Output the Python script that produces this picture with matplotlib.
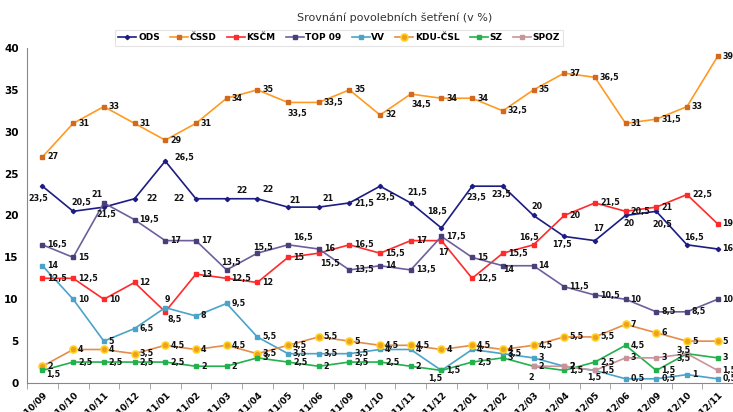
import numpy as np
import matplotlib.pyplot as plt

months = ["2010/09", "2010/10", "2010/11", "2010/12", "2011/01", "2011/02",
          "2011/03", "2011/04", "2011/05", "2011/06", "2011/09", "2011/10",
          "2011/11", "2011/12", "2012/01", "2012/02", "2012/03", "2012/04",
          "2012/05", "2012/06", "2012/09", "2012/10", "2012/11"]

ods = [23.5, 20.5, 21, 22, 26.5, 22, 22, 22, 21, 21, 21.5, 23.5,
       21.5, 18.5, 23.5, 23.5, 20, 17.5, 17, 20, 20.5, 16.5, 16]
cssd = [27, 31, 33, 31, 29, 31, 34, 35, 33.5, 33.5, 35, 32,
        34.5, 34, 34, 32.5, 35, 37, 36.5, 31, 31.5, 33, 39]
kscm = [12.5, 12.5, 10, 12, 8.5, 13, 12.5, 12, 15, 15.5, 16.5, 15.5,
        17, 17, 12.5, 15.5, 16.5, 20, 21.5, 20.5, 21, 22.5, 19]
top09 = [16.5, 15, 21.5, 19.5, 17, 17, 13.5, 15.5, 16.5, 16, 13.5, 14,
         13.5, 17.5, 15, 14, 14, 11.5, 10.5, 10, 8.5, 8.5, 10]
vv = [14, 10, 5, 6.5, 9, 8, 9.5, 5.5, 3.5, 3.5, 3.5, 4,
      4, 1.5, 4, 3.5, 3, 2, 1.5, 0.5, 0.5, 1, 0.5]
kdu = [2, 4, 4, 3.5, 4.5, 4, 4.5, 3.5, 4.5, 5.5, 5, 4.5,
       4.5, 4, 4.5, 4, 4.5, 5.5, 5.5, 7, 6, 5, 5]
sz = [1.5, 2.5, 2.5, 2.5, 2.5, 2, 2, 3, 2.5, 2, 2.5, 2.5,
      2, 1.5, 2.5, 3, 2, 1.5, 2.5, 4.5, 1.5, 3.5, 3]
spoz = [None] * 16 + [2, 2, 1.5, 3, 3, 3.5, 1.5]

series = [
    ("ODS", ods, "#1c1c84", "D", "#1c1c84"),
    ("ČSSD", cssd, "#ff9a22", "s", "#d2691e"),
    ("KSČM", kscm, "#ff2a2a", "s", "#ff2a2a"),
    ("TOP 09", top09, "#6e5f9c", "s", "#4b3f7a"),
    ("VV", vv, "#4ba3c7", "s", "#4ba3c7"),
    ("KDU-ČSL", kdu, "#e58c4c", "o", "#f0a020"),
    ("SZ", sz, "#22b14c", "s", "#22b14c"),
    ("SPOZ", spoz, "#c99499", "s", "#c99499"),
]

# label centre offsets in pixels (dx right, dy up) where the label is not
# simply put to the right of its point
label_moves = {
    ("ČSSD", 8): (9, -11), ("ČSSD", 12): (11, -10),
    ("ODS", 0): (-4, -12), ("ODS", 1): (8, 9), ("ODS", 2): (-7, 13),
    ("ODS", 3): (17, 0), ("ODS", 4): (19, 4), ("ODS", 5): (-17, 0),
    ("ODS", 6): (15, 8), ("ODS", 7): (11, 9), ("ODS", 8): (7, 7),
    ("ODS", 9): (9, 9), ("ODS", 10): (15, -1), ("ODS", 11): (5, -11),
    ("ODS", 12): (6, 10), ("ODS", 13): (-4, 17), ("ODS", 14): (4, -11),
    ("ODS", 15): (-2, -8), ("ODS", 16): (3, 9), ("ODS", 17): (-2, -8),
    ("ODS", 18): (4, 12), ("ODS", 19): (3, -8), ("ODS", 20): (6, -13),
    ("ODS", 21): (7, 7),
    ("KSČM", 4): (9, -8), ("KSČM", 9): (11, -10), ("KSČM", 13): (2, -12),
    ("KSČM", 16): (-5, 7),
    ("TOP 09", 2): (2, -12), ("TOP 09", 6): (4, 7), ("TOP 09", 7): (6, 6),
    ("TOP 09", 8): (15, 7), ("TOP 09", 15): (6, -4),
    ("VV", 4): (2, 8), ("VV", 13): (-6, -8),
    ("SZ", 0): (11, -4), ("SZ", 21): (-3, -5),
    ("SPOZ", 16): (-2, -11), ("SPOZ", 18): (-1, -7), ("SPOZ", 21): (-3, 3),
}


def fmt(v):
    if v == int(v):
        return str(int(v))
    return str(v).replace(".", ",")


fig = plt.figure(figsize=(7.33, 4.12), dpi=100)
ax = fig.add_axes([0.037, 0.0704, 0.963, 0.8131])
x = np.arange(len(months))
px = 0.72  # points per pixel at dpi 100

for name, vals, col, mk, mcol in series:
    y = np.array([np.nan if v is None else v for v in vals], dtype=float)
    if mk == "o":
        ax.plot(x, y, color=col, lw=1.2, marker=mk, ms=5, mfc=mcol,
                mec="#ffd21f", mew=1.2, label=name, zorder=3)
    else:
        ax.plot(x, y, color=col, lw=1.2, marker=mk, ms=2.2, mfc=mcol,
                mec=mcol, label=name, zorder=3)
    for i, v in enumerate(vals):
        if v is None:
            continue
        if (name, i) in label_moves:
            dx, dy = label_moves[(name, i)]
            ax.annotate(fmt(v), (i, v), xytext=(dx * px, dy * px),
                        textcoords="offset points", ha="center", va="center",
                        fontsize=5.8, fontweight="bold", color="#111111",
                        zorder=4)
        else:
            ax.annotate(fmt(v), (i, v), xytext=(5 * px, 0),
                        textcoords="offset points", ha="left", va="center",
                        fontsize=5.8, fontweight="bold", color="#111111",
                        zorder=4)

ax.set_xlim(-0.5, len(months) - 0.5)
ax.set_ylim(0, 40)
ax.set_yticks(range(0, 41, 5))
ax.set_xticks(x)
ax.set_xticklabels(months, rotation=45, ha="right", rotation_mode="anchor",
                   fontsize=6.5, fontweight="bold")
ax.set_xticks(np.arange(-0.5, len(months), 1), minor=True)
ax.tick_params(axis="x", which="major", length=0, pad=5)
ax.tick_params(axis="x", which="minor", length=4, color="#999999")
ax.tick_params(axis="y", length=0, pad=6, labelsize=7.5)
for lab in ax.get_yticklabels():
    lab.set_fontweight("bold")
ax.spines["top"].set_visible(False)
ax.spines["right"].set_visible(False)
ax.spines["left"].set_color("#888888")
ax.spines["bottom"].set_color("#888888")

fig.text(0.538, 0.957, "Srovnání povolebních šetření (v %)", ha="center",
         va="center", fontsize=8, color="#333333")
leg = ax.legend(loc="center", bbox_to_anchor=(0.442, 1.03), ncol=8,
                fontsize=6.5, frameon=True, fancybox=False, handlelength=2.0,
                columnspacing=1.1, handletextpad=0.2, borderpad=0.35)
leg.get_frame().set_edgecolor("#dddddd")
leg.get_frame().set_linewidth(0.8)
for t in leg.get_texts():
    t.set_fontweight("bold")

fig.savefig("out.png", dpi=100)
